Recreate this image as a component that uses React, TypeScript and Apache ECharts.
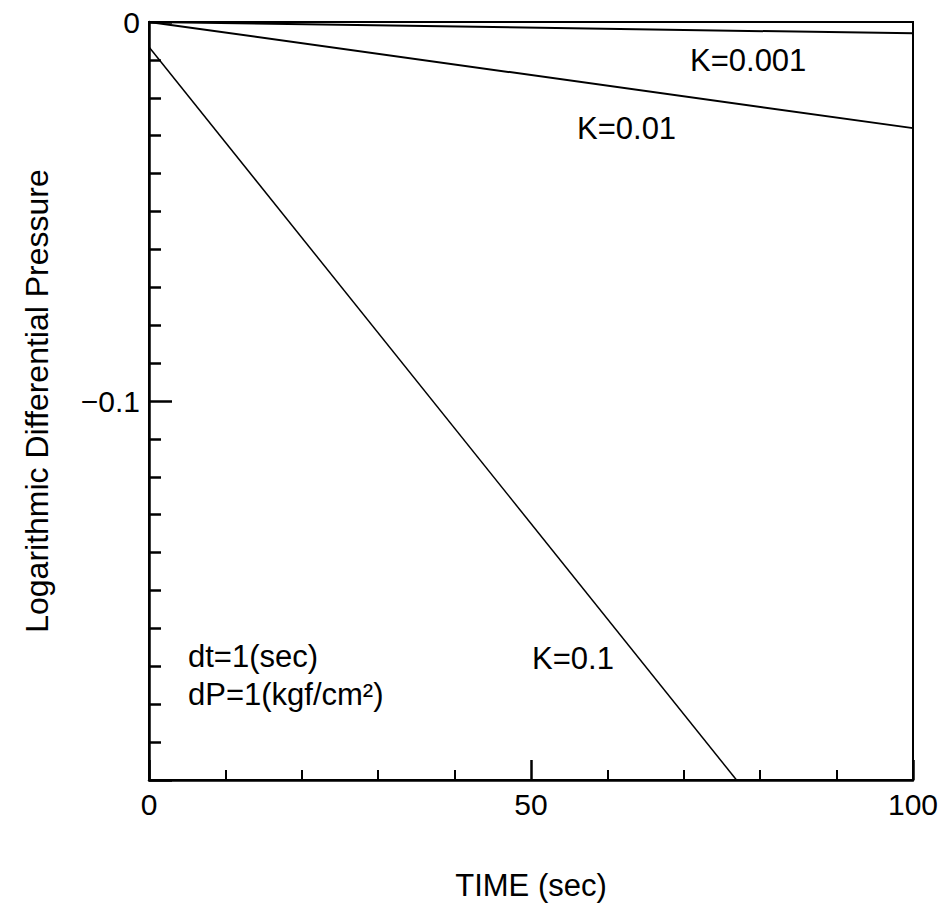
import React, { useEffect, useRef } from "react";
import * as echarts from "echarts";

const seriesNames = ["K=0.001", "K=0.01", "K=0.1"];
const k0001: [number, number][] = [[0, 0], [100, -0.003]];
const k001: [number, number][] = [[0, 0], [100, -0.028]];
const k01: [number, number][] = [[0, -0.0066], [76.9, -0.2]];
const xTickLabels = [0, 50, 100];
const yTickLabels = [0, -0.1];
const noteLine1 = "dt=1(sec)";
const noteLine2 = "dP=1(kgf/cm²)";

const FONT = "Liberation Sans, Arial, Helvetica, sans-serif";

export default function App() {
  const ref = useRef<HTMLDivElement>(null);
  useEffect(() => {
    const chart = echarts.init(ref.current!, null, { renderer: "svg" });
    const lineStyle = (w: number) => ({ color: "#000", width: w });
    chart.setOption({
      animation: false,
      backgroundColor: "#fff",
      textStyle: { fontFamily: FONT, color: "#000" },
      grid: {
        left: 149,
        right: 31,
        top: 22,
        bottom: 129,
        show: true,
        borderColor: "#000",
        borderWidth: 2,
      },
      xAxis: {
        type: "value",
        min: 0,
        max: 100,
        interval: 50,
        name: "TIME (sec)",
        nameLocation: "middle",
        nameGap: 90,
        nameTextStyle: { fontSize: 31, color: "#000", fontFamily: FONT },
        axisLine: { show: true, onZero: false, lineStyle: { color: "#000", width: 2.5 } },
        axisTick: { show: true, inside: true, length: 20, lineStyle: { color: "#000", width: 2.5 } },
        minorTick: { show: true, splitNumber: 5, length: 10, lineStyle: { color: "#000", width: 2 } },
        splitLine: { show: false },
        minorSplitLine: { show: false },
        axisLabel: {
          fontSize: 30,
          color: "#000",
          fontFamily: FONT,
          margin: 9,
          formatter: (v: number) => (xTickLabels.includes(v) ? String(v) : ""),
        },
      },
      yAxis: {
        type: "value",
        min: -0.2,
        max: 0,
        interval: 0.1,
        name: "Logarithmic Differential Pressure",
        nameLocation: "middle",
        nameGap: 96,
        nameTextStyle: { fontSize: 32, color: "#000", fontFamily: FONT },
        axisLine: { show: true, onZero: false, lineStyle: { color: "#000", width: 2.5 } },
        axisTick: { show: true, inside: true, length: 23, lineStyle: { color: "#000", width: 2.5 } },
        minorTick: { show: true, splitNumber: 10, length: 12, lineStyle: { color: "#000", width: 2.5 } },
        splitLine: { show: false },
        minorSplitLine: { show: false },
        axisLabel: {
          fontSize: 30,
          color: "#000",
          fontFamily: FONT,
          margin: 9,
          formatter: (v: number) => {
            const r = Math.round(v * 1000) / 1000;
            if (!yTickLabels.includes(r)) return "";
            return r === 0 ? "0" : "\u2212" + String(Math.abs(r));
          },
        },
      },
      series: [
        { name: seriesNames[0], type: "line", data: k0001, showSymbol: false, symbol: "none", lineStyle: lineStyle(2), clip: true },
        { name: seriesNames[1], type: "line", data: k001, showSymbol: false, symbol: "none", lineStyle: lineStyle(2), clip: true },
        { name: seriesNames[2], type: "line", data: k01, showSymbol: false, symbol: "none", lineStyle: lineStyle(1.5), clip: true },
      ],
      graphic: [
        { type: "text", left: 690, top: 45, style: { text: seriesNames[0], fontSize: 31, fontFamily: FONT, fill: "#000" } },
        { type: "text", left: 577, top: 113, style: { text: seriesNames[1], fontSize: 31, fontFamily: FONT, fill: "#000" } },
        { type: "text", left: 532, top: 643, style: { text: seriesNames[2], fontSize: 31, fontFamily: FONT, fill: "#000" } },
        { type: "text", left: 188, top: 641, style: { text: noteLine1, fontSize: 31, fontFamily: FONT, fill: "#000" } },
        { type: "text", left: 188, top: 679, style: { text: noteLine2, fontSize: 31, fontFamily: FONT, fill: "#000" } },
      ],
    });
    return () => chart.dispose();
  }, []);
  return (
    <div
      ref={ref}
      style={{ position: "absolute", left: 0, top: 0, width: 944, height: 909, background: "#fff" }}
    />
  );
}
